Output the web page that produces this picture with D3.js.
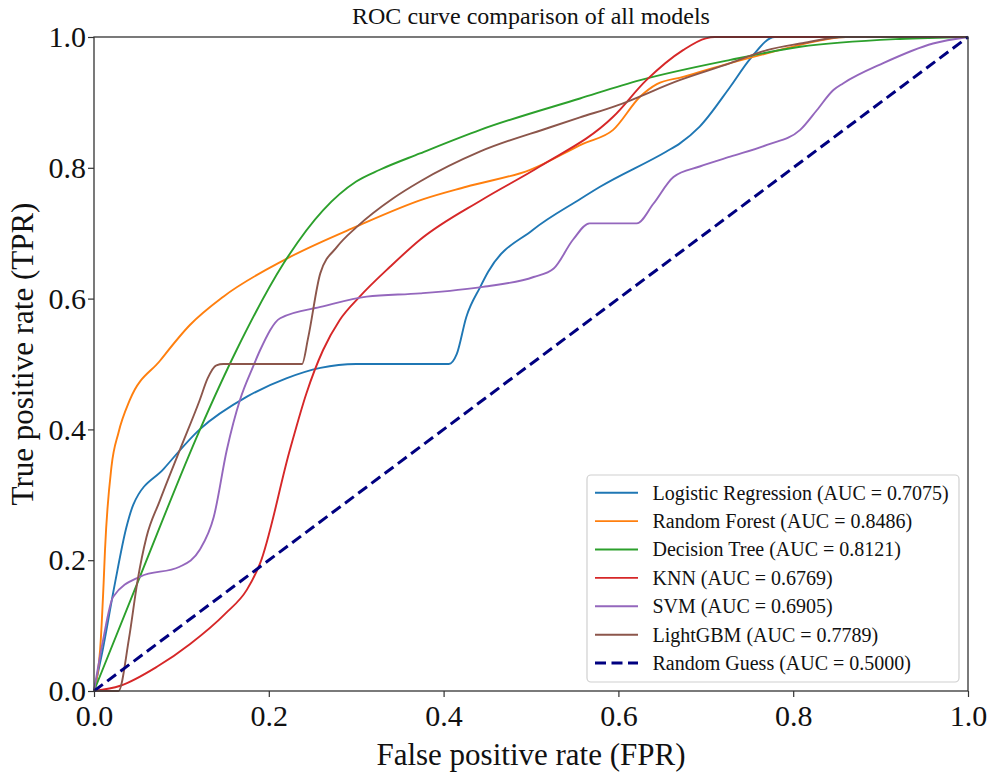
<!DOCTYPE html>
<html>
<head>
<meta charset="utf-8">
<script src="https://cdn.jsdelivr.net/npm/d3@7"></script>
<style>
  html, body { margin: 0; padding: 0; background: #fff; }
  svg { display: block; }
</style>
</head>
<body>
<svg id="chart" width="987" height="773"></svg>
<script>
// ---- Data ----
const models = ["Logistic Regression", "Random Forest", "Decision Tree", "KNN", "SVM", "LightGBM", "Random Guess"];
const aucs = ["0.7075", "0.8486", "0.8121", "0.6769", "0.6905", "0.7789", "0.5000"];

const lrFpr = [0, 0.01, 0.024, 0.037, 0.045, 0.08, 0.121, 0.175, 0.22, 0.259, 0.30, 0.35, 0.406, 0.415, 0.426, 0.442, 0.451, 0.502, 0.556, 0.579, 0.655, 0.67, 0.693, 0.728, 0.751, 0.779, 0.85, 1.0];
const lrTpr = [0, 0.063, 0.165, 0.25, 0.285, 0.34, 0.40, 0.45, 0.478, 0.494, 0.50, 0.50, 0.50, 0.515, 0.572, 0.618, 0.641, 0.705, 0.752, 0.771, 0.825, 0.837, 0.863, 0.924, 0.967, 1.0, 1.0, 1.0];

const rfFpr = [0, 0.007, 0.011, 0.0126, 0.02, 0.028, 0.041, 0.0755, 0.11, 0.148, 0.219, 0.30, 0.377, 0.426, 0.499, 0.56, 0.594, 0.625, 0.644, 0.674, 0.728, 0.77, 0.808, 0.86, 1.0];
const rfTpr = [0, 0.063, 0.165, 0.216, 0.343, 0.395, 0.445, 0.505, 0.56, 0.603, 0.66, 0.71, 0.752, 0.771, 0.797, 0.837, 0.858, 0.909, 0.928, 0.939, 0.96, 0.975, 0.988, 1.0, 1.0];

const dtFpr = [0, 0.0526, 0.121, 0.163, 0.217, 0.262, 0.30, 0.327, 0.373, 0.442, 0.556, 0.625, 0.728, 0.808, 0.922, 1.0];
const dtTpr = [0, 0.175, 0.399, 0.521, 0.654, 0.735, 0.779, 0.797, 0.822, 0.858, 0.906, 0.934, 0.965, 0.985, 0.997, 1.0];

const knnFpr = [0, 0.03, 0.072, 0.11, 0.15, 0.175, 0.19, 0.224, 0.243, 0.262, 0.281, 0.304, 0.339, 0.373, 0.445, 0.51, 0.594, 0.632, 0.674, 0.70, 0.71, 1.0];
const knnTpr = [0, 0.008, 0.037, 0.072, 0.118, 0.155, 0.195, 0.368, 0.455, 0.521, 0.567, 0.603, 0.649, 0.69, 0.752, 0.802, 0.878, 0.934, 0.98, 0.998, 1.0, 1.0];

const svmFpr = [0, 0.01, 0.022, 0.053, 0.098, 0.121, 0.137, 0.152, 0.167, 0.182, 0.19, 0.213, 0.262, 0.312, 0.373, 0.445, 0.503, 0.526, 0.548, 0.567, 0.621, 0.64, 0.663, 0.693, 0.728, 0.77, 0.808, 0.827, 0.846, 0.857, 0.903, 0.96, 1.0];
const svmTpr = [0, 0.075, 0.144, 0.175, 0.19, 0.216, 0.266, 0.369, 0.445, 0.496, 0.521, 0.57, 0.588, 0.603, 0.608, 0.618, 0.633, 0.646, 0.69, 0.715, 0.715, 0.745, 0.786, 0.802, 0.817, 0.835, 0.858, 0.888, 0.919, 0.929, 0.96, 0.99, 1.0];

const lgbFpr = [0, 0.028, 0.04, 0.05, 0.06, 0.075, 0.098, 0.121, 0.13, 0.14, 0.148, 0.238, 0.245, 0.259, 0.278, 0.301, 0.342, 0.373, 0.442, 0.522, 0.556, 0.598, 0.67, 0.728, 0.77, 0.808, 0.86, 1.0];
const lgbTpr = [0, 0.0, 0.08, 0.17, 0.235, 0.29, 0.368, 0.445, 0.478, 0.498, 0.50, 0.50, 0.54, 0.639, 0.679, 0.71, 0.753, 0.779, 0.825, 0.862, 0.877, 0.895, 0.934, 0.96, 0.98, 0.99, 1.0, 1.0];

const guessFpr = [0, 1];
const guessTpr = [0, 1];

const xTicks = [0, 0.2, 0.4, 0.6, 0.8, 1.0];
const yTicks = [0, 0.2, 0.4, 0.6, 0.8, 1.0];
const colors = ["#1f77b4", "#ff7f0e", "#2ca02c", "#d62728", "#9467bd", "#8c564b", "#000080"];

const seriesFpr = [lrFpr, rfFpr, dtFpr, knnFpr, svmFpr, lgbFpr, guessFpr];
const seriesTpr = [lrTpr, rfTpr, dtTpr, knnTpr, svmTpr, lgbTpr, guessTpr];

// ---- Layout ----
const FONT = '"Liberation Serif", "Times New Roman", serif';
const L = 94, R = 968, T = 37, B = 691;

const svg = d3.select("#chart");
const x = d3.scaleLinear().domain([0, 1]).range([L, R]);
const y = d3.scaleLinear().domain([0, 1]).range([B, T]);

// Curves
const line = d3.line().x(d => x(d[0])).y(d => y(d[1])).curve(d3.curveMonotoneX);
const lineStraight = d3.line().x(d => x(d[0])).y(d => y(d[1]));

const gLines = svg.append("g");
seriesFpr.forEach((fpr, i) => {
  const pts = fpr.map((f, j) => [f, seriesTpr[i][j]]);
  const isGuess = i === 6;
  gLines.append("path")
    .attr("d", isGuess ? lineStraight(pts) : line(pts))
    .attr("fill", "none")
    .attr("stroke", colors[i])
    .attr("stroke-width", isGuess ? 3 : 1.9)
    .attr("stroke-dasharray", isGuess ? "11,5.5" : null)
    .attr("stroke-linejoin", "round");
});

// Axes
const xAxis = d3.axisBottom(x).tickValues(xTicks).tickFormat(d3.format(".1f")).tickSize(6).tickPadding(8).tickSizeOuter(0);
const yAxis = d3.axisLeft(y).tickValues(yTicks).tickFormat(d3.format(".1f")).tickSize(6).tickPadding(2).tickSizeOuter(0);

const gx = svg.append("g").attr("transform", `translate(0,${B})`).call(xAxis);
const gy = svg.append("g").attr("transform", `translate(${L},0)`).call(yAxis);
[gx, gy].forEach(g => {
  g.select(".domain").remove();
  g.selectAll(".tick line").attr("stroke", "#333").attr("stroke-width", 1.2);
  g.selectAll(".tick text")
    .style("font-family", FONT)
    .style("font-size", "30px")
    .attr("fill", "#111");
});

// Spines
svg.append("rect")
  .attr("x", L).attr("y", T).attr("width", R - L).attr("height", B - T)
  .attr("fill", "none").attr("stroke", "#333").attr("stroke-width", 1.3);

// Title and labels
function label(sel) {
  return sel.style("font-family", FONT).attr("fill", "#111").attr("text-anchor", "middle");
}
label(svg.append("text")).attr("x", (L + R) / 2).attr("y", 24)
  .style("font-size", "24px")
  .text("ROC curve comparison of all models");
label(svg.append("text")).attr("x", (L + R) / 2).attr("y", 765)
  .style("font-size", "31px")
  .text("False positive rate (FPR)");
label(svg.append("text")).attr("transform", `translate(33,354) rotate(-90)`)
  .style("font-size", "31px")
  .text("True positive rate (TPR)");

// Legend
const lg = svg.append("g");
lg.append("rect").attr("x", 587).attr("y", 475).attr("width", 372).attr("height", 207)
  .attr("rx", 4).attr("ry", 4)
  .attr("fill", "rgba(255,255,255,0.85)").attr("stroke", "#d0d0d0").attr("stroke-width", 1.2);
models.forEach((m, i) => {
  const yy = 492.7 + i * 28.4;
  lg.append("line").attr("x1", 595).attr("x2", 638).attr("y1", yy).attr("y2", yy)
    .attr("stroke", colors[i]).attr("stroke-width", i === 6 ? 3 : 1.9)
    .attr("stroke-dasharray", i === 6 ? "11,5.5" : null);
  lg.append("text").attr("x", 652.5).attr("y", yy).attr("dy", "0.34em")
    .style("font-family", FONT).attr("fill", "#111")
    .style("font-size", "20px")
    .text(`${m} (AUC = ${aucs[i]})`);
});
</script>
</body>
</html>
